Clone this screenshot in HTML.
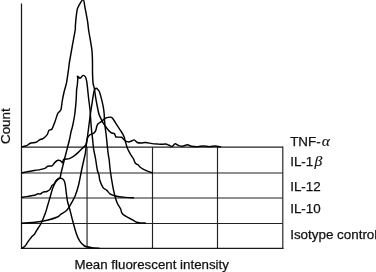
<!DOCTYPE html>
<html><head><meta charset="utf-8">
<style>
html,body{margin:0;padding:0;background:#fff;}
body{width:376px;height:272px;overflow:hidden;}
svg{display:block;}
text{font-family:"Liberation Sans",sans-serif;font-size:13.4px;fill:#111;stroke:#111;stroke-width:0.25px;}
.i{font-style:italic;font-family:"Liberation Serif","DejaVu Serif",serif;font-size:15.6px;stroke-width:0.15px;}
</style></head><body>
<svg width="376" height="272" viewBox="0 0 376 272">
<rect width="376" height="272" fill="#fff"/>
<g fill="none" stroke="#222" stroke-width="1.15">
<path d="M21.5,147.1H282.8M21.5,173H282.8M21.5,198H282.8M21.5,223.45H282.8"/>
<path d="M87.05,147.1V248.2M152.5,147.1V248.2M217.5,147.1V248.2M282.8,146.55V248.9"/>
</g>
<g fill="none" stroke="#1a1a1a" stroke-width="1.25">
<path d="M21.5,3.5V249"/>
<path d="M20.9,248.45H283.4"/>
</g>
<g fill="none" stroke="#000" stroke-width="1.45" stroke-linejoin="round" stroke-linecap="round">
<path d="M21.70,146.80C22.29,146.67 25.81,146.12 26.80,145.70C27.79,145.28 29.10,143.60 30.20,143.20C31.30,142.80 35.10,142.70 36.20,142.30C37.30,141.90 38.81,140.23 39.60,139.80C40.39,139.37 42.11,139.19 43.00,138.60C43.89,138.00 46.51,135.66 47.20,134.70C47.89,133.74 48.34,131.06 48.90,130.40C49.46,129.74 51.30,129.99 52.00,129.00C52.70,128.01 54.26,123.65 54.90,121.90C55.54,120.15 57.07,115.11 57.50,114.00C57.93,112.89 58.19,112.91 58.60,112.40C59.01,111.89 60.57,110.96 61.00,109.60C61.43,108.23 61.91,102.87 62.30,100.70C62.68,98.53 63.81,93.08 64.30,91.00C64.79,88.92 66.03,85.23 66.50,82.90C66.97,80.57 67.95,73.45 68.30,71.00C68.65,68.55 69.03,64.82 69.50,61.90C69.97,58.98 71.63,49.72 72.30,46.00C72.97,42.28 74.84,32.39 75.20,30.00C75.56,27.61 75.28,27.06 75.40,25.50C75.52,23.94 75.93,18.65 76.20,16.60C76.47,14.55 76.88,9.91 77.70,7.90C78.52,5.89 82.35,-0.58 83.20,-0.60C84.05,-0.62 84.49,5.10 85.00,7.70C85.51,10.30 87.18,19.10 87.60,21.70C88.02,24.30 88.23,27.54 88.60,30.00C88.97,32.46 90.41,40.47 90.80,42.80C91.19,45.13 91.71,48.23 91.90,50.00C92.09,51.77 92.33,56.13 92.40,58.00C92.47,59.87 92.49,64.37 92.50,66.00C92.51,67.63 92.47,70.40 92.50,72.00C92.53,73.60 92.72,78.30 92.80,79.70C92.88,81.10 93.00,82.86 93.20,84.00C93.40,85.14 94.22,87.96 94.50,89.50C94.78,91.04 95.28,95.28 95.60,97.20C95.91,99.12 96.81,104.04 97.20,106.00C97.59,107.96 98.57,112.76 98.90,114.00C99.23,115.24 99.49,115.53 100.00,116.60C100.51,117.67 102.46,121.79 103.30,123.20C104.14,124.61 106.30,127.60 107.20,128.70C108.10,129.80 110.17,132.02 111.00,132.60C111.83,133.18 113.79,133.31 114.30,133.70C114.81,134.08 115.20,135.52 115.40,135.90C115.60,136.28 115.29,136.84 116.00,137.00C116.71,137.16 120.68,137.11 121.50,137.30C122.32,137.49 122.51,138.17 123.00,138.60C123.49,139.03 125.12,140.62 125.70,141.00C126.28,141.38 127.37,141.87 128.00,141.90C128.63,141.94 130.38,141.53 131.10,141.30C131.82,141.07 133.48,139.76 134.20,139.90C134.92,140.04 136.48,142.14 137.30,142.50C138.12,142.86 140.21,143.00 141.20,143.00C142.19,143.00 144.54,142.43 145.80,142.50C147.06,142.57 150.58,143.41 152.00,143.60C153.42,143.79 156.87,144.02 158.00,144.10C159.13,144.18 160.82,144.31 161.70,144.30C162.57,144.29 164.61,143.88 165.50,144.00C166.39,144.12 168.52,145.01 169.30,145.30C170.08,145.59 171.52,146.68 172.20,146.50C172.88,146.32 174.32,143.91 175.10,143.80C175.88,143.70 178.01,145.32 178.90,145.60C179.79,145.88 181.70,146.29 182.70,146.20C183.70,146.11 186.48,144.80 187.50,144.80C188.52,144.80 190.18,145.99 191.40,146.20C192.62,146.41 196.66,146.63 198.00,146.60C199.34,146.56 201.55,145.90 202.90,145.90C204.25,145.90 208.15,146.59 209.60,146.60C211.05,146.61 214.03,145.97 215.30,146.00C216.57,146.03 219.89,146.80 220.50,146.90"/>
<path d="M21.70,172.80C22.69,172.61 28.06,171.57 30.20,171.20C32.34,170.83 38.26,169.94 40.00,169.60C41.74,169.26 44.20,168.70 45.10,168.30C46.00,167.90 46.88,166.49 47.70,166.20C48.52,165.91 51.28,166.22 52.10,165.80C52.92,165.38 54.02,163.24 54.70,162.60C55.38,161.96 57.23,160.52 57.90,160.30C58.56,160.08 59.84,160.41 60.40,160.70C60.96,160.99 62.33,162.95 62.70,162.80C63.07,162.65 62.82,159.89 63.60,159.40C64.38,158.91 68.21,158.97 69.40,158.60C70.59,158.23 72.76,156.92 73.80,156.20C74.84,155.48 77.35,153.26 78.30,152.40C79.25,151.54 81.03,149.68 81.90,148.80C82.78,147.93 85.16,146.12 85.80,144.90C86.44,143.68 86.96,139.46 87.40,138.30C87.84,137.15 88.89,135.57 89.60,135.00C90.31,134.43 92.79,133.91 93.50,133.40C94.21,132.89 95.31,131.44 95.70,130.60C96.09,129.76 96.54,126.97 96.80,126.20C97.06,125.43 97.47,124.48 97.90,124.00C98.33,123.52 99.87,122.58 100.50,122.10C101.13,121.62 102.65,120.39 103.30,119.90C103.95,119.41 105.20,118.22 106.10,117.90C107.00,117.59 110.21,117.09 111.00,117.20C111.79,117.31 112.19,117.84 112.90,118.80C113.61,119.76 116.10,123.86 117.10,125.40C118.10,126.94 120.69,130.71 121.50,132.00C122.31,133.29 123.59,135.54 124.00,136.50C124.41,137.46 124.61,138.87 125.00,140.20C125.39,141.53 126.67,146.28 127.30,147.90C127.93,149.52 129.69,152.84 130.40,154.10C131.11,155.36 132.86,157.71 133.40,158.70C133.94,159.69 134.64,161.96 135.00,162.60C135.36,163.24 136.14,163.95 136.50,164.20C136.86,164.44 137.74,164.41 138.10,164.70C138.46,164.99 138.97,166.16 139.60,166.70C140.23,167.24 142.51,168.76 143.50,169.30C144.49,169.84 147.07,170.89 148.10,171.30C149.13,171.71 151.81,172.62 152.30,172.80"/>
<path d="M21.70,197.30C22.25,197.22 25.26,196.79 26.40,196.60C27.54,196.41 30.46,195.89 31.50,195.70C32.54,195.51 34.55,195.23 35.30,195.00C36.05,194.77 37.30,193.82 37.90,193.70C38.49,193.58 39.80,194.19 40.40,194.00C40.99,193.81 42.25,192.39 43.00,192.10C43.75,191.81 45.98,191.81 46.80,191.50C47.62,191.19 49.41,190.09 50.00,189.40C50.59,188.71 51.46,186.19 51.90,185.60C52.34,185.00 53.34,184.84 53.80,184.30C54.25,183.76 55.27,181.66 55.80,181.00C56.32,180.34 57.79,179.01 58.30,178.60C58.81,178.19 59.85,178.27 60.20,177.50C60.55,176.73 60.79,174.19 61.30,172.00C61.81,169.81 63.85,161.66 64.60,158.70C65.35,155.74 67.14,148.78 67.70,146.60C68.26,144.42 69.02,141.70 69.40,140.00C69.79,138.30 70.63,133.63 71.00,132.00C71.37,130.37 72.16,128.10 72.60,126.00C73.04,123.90 74.38,117.14 74.80,114.00C75.22,110.86 75.99,101.90 76.20,99.10C76.41,96.30 76.46,91.74 76.60,90.00C76.74,88.26 77.27,85.54 77.40,84.20C77.53,82.86 77.74,79.43 77.75,78.50C77.76,77.57 77.23,76.23 77.50,76.20C77.77,76.17 79.46,78.29 80.10,78.20C80.74,78.11 82.38,75.55 83.00,75.40C83.62,75.25 84.98,76.26 85.40,76.90C85.82,77.54 86.37,79.77 86.60,80.90C86.83,82.03 87.18,84.66 87.40,86.60C87.62,88.54 88.19,94.71 88.50,97.50C88.81,100.29 89.83,107.76 90.10,110.50C90.37,113.24 90.61,118.49 90.80,121.00C90.99,123.51 91.51,130.11 91.70,132.00C91.89,133.89 92.19,135.30 92.40,137.20C92.61,139.10 93.24,146.34 93.50,148.30C93.76,150.26 94.35,152.75 94.60,154.00C94.84,155.25 95.28,157.13 95.60,159.00C95.91,160.87 96.90,168.13 97.30,170.00C97.70,171.87 98.71,173.81 99.00,175.00C99.29,176.19 99.31,178.69 99.80,180.20C100.29,181.70 102.41,186.75 103.20,187.90C103.99,189.06 105.81,189.41 106.60,190.10C107.39,190.79 109.05,193.14 110.00,193.80C110.95,194.47 113.60,195.45 114.70,195.80C115.80,196.15 118.18,196.61 119.40,196.80C120.62,196.99 123.57,197.28 125.20,197.40C126.83,197.52 132.44,197.75 133.40,197.80"/>
<path d="M21.70,223.20C23.48,223.06 34.02,222.35 37.00,222.00C39.98,221.65 44.82,220.78 47.20,220.20C49.58,219.62 55.80,217.70 57.40,217.00C59.00,216.30 59.90,214.90 60.90,214.20C61.90,213.50 65.01,211.89 66.00,211.00C66.99,210.11 68.32,208.41 69.40,206.60C70.48,204.79 74.22,198.08 75.30,195.50C76.38,192.92 77.97,187.47 78.70,184.50C79.44,181.53 80.92,173.21 81.60,170.00C82.28,166.79 84.08,158.87 84.50,157.00C84.92,155.13 85.05,154.89 85.20,154.00C85.35,153.11 85.59,151.03 85.80,149.40C86.01,147.77 86.81,141.42 87.00,140.00C87.19,138.58 87.11,139.42 87.40,137.20C87.69,134.98 89.15,123.71 89.50,121.00C89.85,118.29 90.07,116.26 90.40,114.00C90.73,111.74 91.89,104.20 92.30,101.60C92.71,99.00 93.46,93.26 93.90,91.70C94.34,90.14 95.46,88.20 96.10,88.20C96.74,88.20 98.76,90.39 99.40,91.70C100.04,93.01 101.14,97.59 101.60,99.40C102.05,101.21 103.00,105.50 103.30,107.20C103.60,108.90 104.07,112.65 104.20,114.00C104.33,115.35 104.28,117.21 104.40,118.80C104.52,120.39 104.99,125.71 105.20,127.60C105.41,129.49 105.95,132.85 106.20,135.00C106.45,137.15 107.07,143.78 107.30,146.00C107.53,148.22 107.98,152.37 108.20,154.00C108.42,155.63 108.97,158.13 109.20,160.00C109.43,161.87 109.80,167.05 110.20,170.00C110.60,172.95 112.06,182.33 112.60,185.30C113.14,188.28 114.30,193.52 114.80,195.50C115.30,197.48 116.42,201.08 116.90,202.30C117.38,203.53 118.46,205.22 118.90,206.00C119.34,206.78 120.37,208.22 120.70,209.00C121.03,209.78 121.31,211.98 121.70,212.70C122.09,213.42 123.17,214.59 124.00,215.20C124.83,215.81 127.75,217.32 128.80,217.90C129.85,218.48 132.08,219.69 133.00,220.20C133.92,220.71 135.82,221.99 136.70,222.30C137.57,222.62 139.47,222.81 140.50,222.90C141.53,222.99 144.92,223.08 145.50,223.10"/>
<path d="M22.10,248.20C22.43,247.98 24.40,246.77 24.90,246.30C25.40,245.83 26.01,244.78 26.40,244.20C26.79,243.62 27.62,242.12 28.20,241.30C28.78,240.48 30.65,238.05 31.40,237.20C32.15,236.35 33.95,234.86 34.60,234.00C35.25,233.14 36.22,231.08 37.00,229.80C37.78,228.52 40.31,224.98 41.30,223.00C42.29,221.02 44.78,214.78 45.50,212.80C46.22,210.82 46.98,207.78 47.50,206.00C48.02,204.22 49.41,199.53 50.00,197.50C50.59,195.47 52.01,190.30 52.60,188.60C53.20,186.90 54.51,183.95 55.10,182.90C55.70,181.85 57.02,180.14 57.70,179.60C58.38,179.06 60.16,178.22 60.90,178.30C61.63,178.38 63.49,179.54 64.00,180.30C64.51,181.06 65.04,183.39 65.30,184.80C65.56,186.21 65.94,190.46 66.20,192.40C66.46,194.34 67.23,199.93 67.50,201.40C67.77,202.87 68.28,204.27 68.50,205.00C68.72,205.73 68.90,205.80 69.40,207.70C69.90,209.60 72.01,218.33 72.80,221.30C73.59,224.28 75.41,230.91 76.20,233.20C76.99,235.49 78.63,239.41 79.60,240.90C80.57,242.39 83.14,245.22 84.50,246.00C85.86,246.78 89.61,247.34 91.30,247.60C92.99,247.86 98.10,248.13 99.00,248.20"/>
</g>
<text x="290.2" y="145.5">TNF-<tspan class="i" dx="1.1">α</tspan></text>
<text x="290.2" y="165.9">IL-1<tspan class="i" dx="1.1">β</tspan></text>
<text x="290.2" y="191.4">IL-12</text>
<text x="290.2" y="213.3">IL-10</text>
<text x="290.2" y="238.8">Isotype control</text>
<text x="74.4" y="268.7" style="font-size:13.3px">Mean fluorescent intensity</text>
<text transform="translate(10.1,144) rotate(-90)">Count</text>
</svg>
</body></html>
